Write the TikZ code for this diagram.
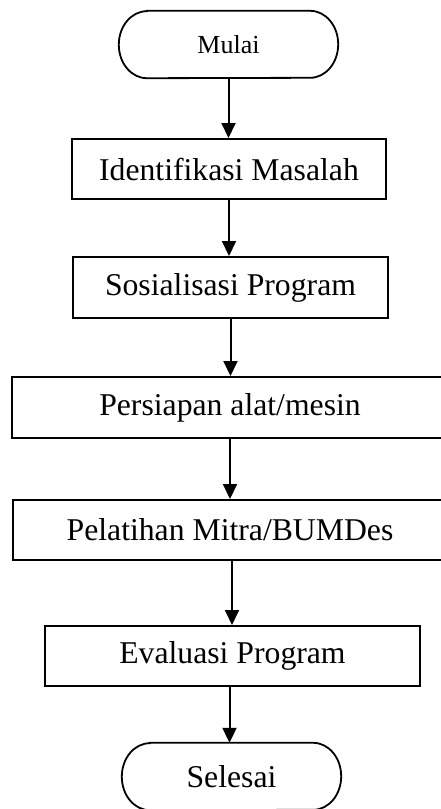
\documentclass[tikz,border=0pt]{standalone}
\usepackage{fontspec}
\setmainfont{Liberation Serif}
\usetikzlibrary{arrows.meta}
\tikzset{
  proc/.style={draw=black, line width=2pt, inner sep=0pt, font=\fontsize{31.7}{38}\selectfont},
  term/.style={inner sep=0pt, minimum width=219pt, minimum height=67pt},
  termline/.style={draw=black, line width=1.8pt},
  arr/.style={draw=black, line width=2pt, -{Triangle[width=14pt,length=15pt]}}
}
\begin{document}
\begin{tikzpicture}[x=1pt,y=-1pt]
\clip (0,0) rectangle (441,809);
% nodes
\node[term, font=\fontsize{26}{31}\selectfont] (mulai) at (228.5,44.5) {Mulai};
\node[proc, minimum width=314pt, minimum height=60pt] (ident) at (229,169) {Identifikasi Masalah};
\node[proc, minimum width=315pt, minimum height=61pt] (sosial) at (230.5,287.5) {Sosialisasi Program};
\node[proc, minimum width=436pt, minimum height=61pt] (persiap) at (230,407.5) {Persiapan alat/mesin};
\node[proc, minimum width=434pt, minimum height=60pt] (pelatih) at (230,530) {Pelatihan Mitra/BUMDes};
\node[proc, minimum width=375pt, minimum height=60pt] (evaluasi) at (232.5,656) {Evaluasi Program};
\node[term, font=\fontsize{31.7}{38}\selectfont] (selesai) at (231.5,776.5) {Selesai};
% terminator outlines
\foreach \t in {mulai,selesai}{
  \draw[termline] ([xshift=28pt]\t.north west) -- ([xshift=-28pt]\t.north east)
    arc[start angle=90, end angle=-90, x radius=28pt, y radius=33.5pt]
    -- ([xshift=28pt]\t.south west)
    arc[start angle=270, end angle=90, x radius=28pt, y radius=33.5pt] -- cycle;
}
% connectors
\draw[arr] (mulai.south) -- (mulai.south |- ident.north);
\draw[arr] (ident.south) -- (ident.south |- sosial.north);
\draw[arr] (sosial.south) -- (sosial.south |- persiap.north);
\draw[arr] (persiap.south) -- (persiap.south |- pelatih.north);
\draw[arr] ([xshift=2pt]pelatih.south) -- ([xshift=2pt]pelatih.south |- evaluasi.north);
\draw[arr] ([xshift=-3pt]evaluasi.south) -- ([xshift=-3pt]evaluasi.south |- selesai.north);
\end{tikzpicture}
\end{document}
